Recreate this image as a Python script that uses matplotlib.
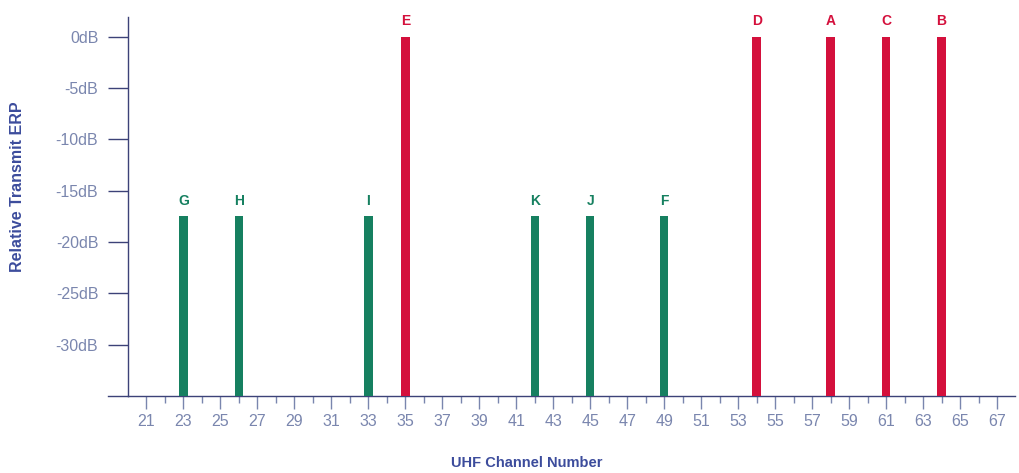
import matplotlib
matplotlib.use("Agg")
import matplotlib.pyplot as plt
from matplotlib.ticker import FixedLocator

# Data
letters = ["G", "H", "I", "E", "K", "J", "F", "D", "A", "C", "B"]
channels = [23, 26, 33, 35, 42, 45, 49, 54, 58, 61, 64]
erp_db = [-17.5, -17.5, -17.5, 0, -17.5, -17.5, -17.5, 0, 0, 0, 0]
y_ticks = [0, -5, -10, -15, -20, -25, -30]
y_tick_labels = ["0dB", "-5dB", "-10dB", "-15dB", "-20dB", "-25dB", "-30dB"]
x_tick_labels = list(range(21, 68, 2))

green = "#168060"
red = "#d4103c"
axis_col = "#3c4278"
tick_lab_col = "#7a86ae"
label_col = "#3c4c9c"

plt.rcParams['font.family'] = ['Liberation Sans', 'DejaVu Sans']

fig = plt.figure(figsize=(10.2, 4.73), dpi=100)
ax = fig.add_axes([128/1020, 77/473, 887.5/1020, 379/473])

base = -35
for ch, v, lt in zip(channels, erp_db, letters):
    col = red if v >= 0 else green
    ax.bar(ch, v - base, bottom=base, width=0.45, color=col, zorder=3)
    ax.text(ch, v + 0.8, lt, ha="center", va="bottom", fontsize=10,
            fontweight="bold", color=col)

ax.set_xlim(20, 68)
ax.set_ylim(base, 1.9)

for s in ["top", "right"]:
    ax.spines[s].set_visible(False)
ax.spines["left"].set_color(axis_col)
ax.spines["bottom"].set_color(axis_col)
ax.spines["left"].set_linewidth(1.0)
ax.spines["bottom"].set_linewidth(1.0)
# extend bottom axis line to the left of the y-axis
ax.plot([-20/887.5, 0], [0, 0], transform=ax.transAxes, color=axis_col,
        lw=1.0, clip_on=False)

ax.yaxis.set_major_locator(FixedLocator(y_ticks))
ax.set_yticklabels(y_tick_labels)
ax.tick_params(axis="y", length=14.4, width=1.0, color=axis_col, pad=7,
               labelsize=11.5, labelcolor=tick_lab_col)

ax.xaxis.set_major_locator(FixedLocator(x_tick_labels))
ax.set_xticklabels([str(v) for v in x_tick_labels])
ax.xaxis.set_minor_locator(FixedLocator(list(range(22, 68, 2))))
ax.tick_params(axis="x", which="major", length=9, width=1.0, color=tick_lab_col,
               pad=4, labelsize=11.5, labelcolor=tick_lab_col)
ax.tick_params(axis="x", which="minor", length=5, width=1.0, color=tick_lab_col)

fig.text(18/1020, 1 - 187/473, "Relative Transmit ERP", rotation=90,
         ha="center", va="center", fontsize=11.5, fontweight="bold", color=label_col)
fig.text(527/1020, 1 - 463/473, "UHF Channel Number", ha="center", va="center",
         fontsize=10.5, fontweight="bold", color=label_col)

fig.savefig("out.png", dpi=100)
